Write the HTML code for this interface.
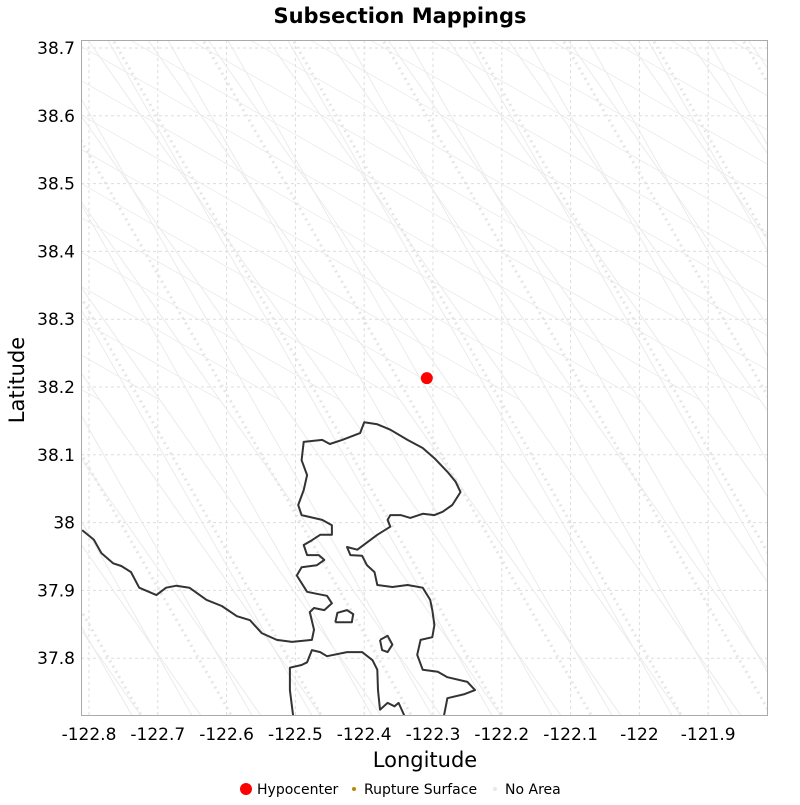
<!DOCTYPE html>
<html><head><meta charset="utf-8"><style>
body{margin:0;background:#fff;}
svg text{font-family:"DejaVu Sans","Liberation Sans",sans-serif;}
</style></head><body>
<svg id="c" width="800" height="800"></svg>
<script>
const xTicks=[-122.8,-122.7,-122.6,-122.5,-122.4,-122.3,-122.2,-122.1,-122,-121.9];
const xTickLabels=["-122.8","-122.7","-122.6","-122.5","-122.4","-122.3","-122.2","-122.1","-122","-121.9"];
const yTicks=[38.7,38.6,38.5,38.4,38.3,38.2,38.1,38,37.9,37.8];
const yTickLabels=["38.7","38.6","38.5","38.4","38.3","38.2","38.1","38","37.9","37.8"];
const hypoLon=[-122.309];
const hypoLat=[38.213];
const coastLon=[-122.810,-122.793,-122.782,-122.765,-122.753,-122.739,-122.727,-122.702,-122.688,-122.673,-122.654,-122.629,-122.607,-122.585,-122.566,-122.549,-122.527,-122.505,-122.476,-122.473,-122.479,-122.473,-122.458,-122.447,-122.454,-122.469,-122.483,-122.498,-122.491,-122.469,-122.458,-122.466,-122.483,-122.488,-122.476,-122.464,-122.447,-122.447,-122.461,-122.491,-122.496,-122.488,-122.483,-122.491,-122.488,-122.461,-122.450,-122.432,-122.406,-122.400,-122.381,-122.362,-122.337,-122.315,-122.298,-122.279,-122.267,-122.260,-122.272,-122.286,-122.298,-122.315,-122.333,-122.347,-122.362,-122.366,-122.362,-122.381,-122.410,-122.425,-122.420,-122.403,-122.396,-122.385,-122.381,-122.359,-122.337,-122.315,-122.304,-122.301,-122.298,-122.301,-122.318,-122.323,-122.315,-122.293,-122.279,-122.250,-122.239,-122.254,-122.279,-122.286];
const coastLat=[37.989,37.975,37.955,37.940,37.936,37.927,37.904,37.893,37.904,37.907,37.904,37.886,37.877,37.862,37.856,37.837,37.827,37.824,37.827,37.842,37.868,37.874,37.871,37.881,37.892,37.895,37.898,37.922,37.934,37.937,37.945,37.952,37.952,37.967,37.974,37.982,37.982,37.996,38.004,38.011,38.026,38.048,38.070,38.092,38.119,38.122,38.116,38.122,38.132,38.148,38.145,38.137,38.122,38.110,38.095,38.075,38.060,38.045,38.026,38.016,38.011,38.013,38.007,38.011,38.011,38.004,37.994,37.982,37.960,37.964,37.952,37.951,37.937,37.927,37.908,37.905,37.908,37.904,37.886,37.871,37.849,37.831,37.827,37.805,37.783,37.780,37.772,37.765,37.753,37.747,37.741,37.705];
const southLon=[-122.502,-122.508,-122.508,-122.491,-122.483,-122.476,-122.464,-122.454,-122.425,-122.403,-122.388,-122.381,-122.380,-122.377,-122.366,-122.356,-122.350,-122.337];
const southLat=[37.705,37.753,37.786,37.790,37.794,37.812,37.809,37.803,37.809,37.809,37.797,37.783,37.753,37.724,37.734,37.729,37.734,37.705];
const isl1Lon=[-122.442,-122.439,-122.425,-122.416,-122.418,-122.442];
const isl1Lat=[37.853,37.867,37.871,37.865,37.853,37.853];
const isl2Lon=[-122.377,-122.366,-122.359,-122.366,-122.374,-122.377];
const isl2Lat=[37.827,37.833,37.820,37.809,37.812,37.827];

const L=81,R=768,T=40,B=716;
const x=v=>89+(v+122.8)*688;
const y=v=>48+(38.7-v)*678;
const NS="http://www.w3.org/2000/svg";
const svg=document.getElementById('c');
function mk(t,a,p){const e=document.createElementNS(NS,t);for(const k in a)e.setAttribute(k,a[k]);(p||svg).appendChild(e);return e;}
const defs=mk('defs',{});
const cp=mk('clipPath',{id:'clip'},defs);mk('rect',{x:L,y:T,width:R-L,height:B-T},cp);
const bg=mk('rect',{x:L,y:T,width:R-L,height:B-T,fill:'#fff'});


const g=mk('g',{'clip-path':'url(#clip)'});
xTicks.forEach(v=>{const l=mk('line',{x1:x(v),x2:x(v),y1:T,y2:B,stroke:'#ddd','stroke-dasharray':'3,3'},g);

});
yTicks.forEach(v=>{const l=mk('line',{x1:L,x2:R,y1:y(v),y2:y(v),stroke:'#ddd','stroke-dasharray':'3,3'},g);

});
const bgG=mk('g',{stroke:'#ebebeb','stroke-width':1,fill:'none'},g);


for(let i=-12;i<14;i++){
  const x0=i*60;
  mk('line',{x1:x0,y1:0,x2:x0+560,y2:800},bgG);
  mk('line',{x1:x0+25,y1:0,x2:x0+480,y2:800},bgG);
  mk('line',{x1:x0,y1:0,x2:x0+700,y2:400,'stroke-width':0.8},bgG);
}
for(let i=-6;i<12;i++){
  mk('line',{x1:i*90,y1:0,x2:i*90+460,y2:800,stroke:'#e6e6e6','stroke-width':3,'stroke-dasharray':'2,4'},bgG);
}
function poly(lo,la,name){const d=lo.map((v,i)=>(i?'L':'M')+x(v).toFixed(1)+','+y(la[i]).toFixed(1)).join('');
const p=mk('path',{d:d,fill:'none',stroke:'#333','stroke-width':2,'stroke-linejoin':'round'},g);

}
poly(coastLon,coastLat,'coastline-bay');
poly(southLon,southLat,'coastline-south');
poly(isl1Lon,isl1Lat,'island-1');
poly(isl2Lon,isl2Lat,'island-2');
hypoLon.forEach((v,i)=>{const c=mk('circle',{cx:x(v),cy:y(hypoLat[i]),r:6,fill:'#f00'},g);

});
const fr=mk('rect',{x:L+0.5,y:T+0.5,width:R-L-1,height:B-T-1,fill:'none',stroke:'#aaa'});


xTicks.forEach((v,i)=>{const t=mk('text',{x:x(v),y:740,'text-anchor':'middle','font-size':17,fill:'#000'});t.textContent=xTickLabels[i];

});
yTicks.forEach((v,i)=>{const t=mk('text',{x:75,y:y(v)+6,'text-anchor':'end','font-size':17,fill:'#000'});t.textContent=yTickLabels[i];

});
let t=mk('text',{x:400,y:23,'text-anchor':'middle','font-size':21,'font-weight':'bold'});t.textContent='Subsection Mappings';


t=mk('text',{x:425,y:767,'text-anchor':'middle','font-size':21});t.textContent='Longitude';


t=mk('text',{x:0,y:0,'text-anchor':'middle','font-size':21,transform:'translate(24,380) rotate(-90)'});t.textContent='Latitude';


const lg=mk('g',{});


let c=mk('circle',{cx:246,cy:789,r:6,fill:'#f00'},lg);


t=mk('text',{x:257,y:794,'font-size':14},lg);t.textContent='Hypocenter';


c=mk('circle',{cx:354,cy:789,r:2,fill:'#b8860b'},lg);


t=mk('text',{x:364,y:794,'font-size':14},lg);t.textContent='Rupture Surface';


c=mk('circle',{cx:495,cy:789,r:2,fill:'#e8e8e8'},lg);


t=mk('text',{x:505,y:794,'font-size':14},lg);t.textContent='No Area';


</script>
</body></html>
